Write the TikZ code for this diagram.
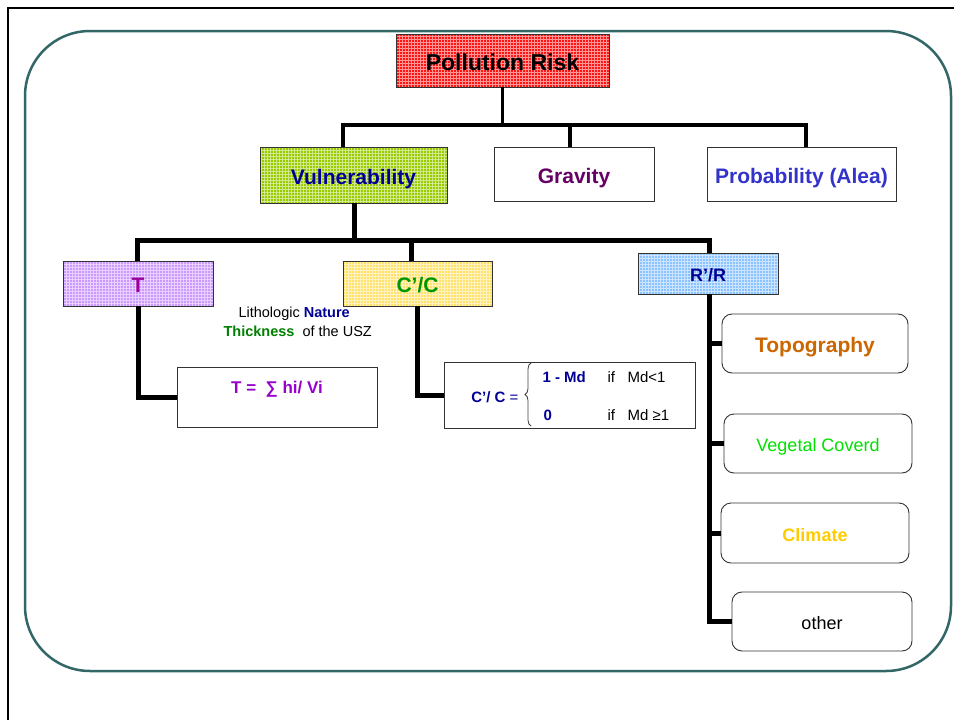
\documentclass[tikz,border=0pt]{standalone}
\usepackage{fontspec}
\setmainfont{Liberation Sans}
\usetikzlibrary{patterns,decorations.pathreplacing}

\definecolor{frameteal}{RGB}{51,102,102}
\definecolor{riskred}{RGB}{255,20,20}
\definecolor{vulgreen}{RGB}{153,204,0}
\definecolor{tlav}{RGB}{204,153,255}
\definecolor{ccyellow}{RGB}{255,226,110}
\definecolor{rrblue}{RGB}{140,195,255}
\definecolor{navy}{RGB}{0,0,150}
\definecolor{plum}{RGB}{102,0,102}
\definecolor{probblue}{RGB}{51,51,204}
\definecolor{tpurple}{RGB}{153,0,153}
\definecolor{fpurple}{RGB}{153,0,204}
\definecolor{ccgreen}{RGB}{0,150,0}
\definecolor{thickgreen}{RGB}{0,128,0}
\definecolor{topoorange}{RGB}{204,102,0}
\definecolor{veggreen}{RGB}{0,225,0}
\definecolor{climgold}{RGB}{255,204,0}

\tikzset{
  sq/.style={draw=black!80, line width=0.9pt, inner sep=0pt},
  rnd/.style={draw=black!80, line width=0.9pt, inner sep=0pt, rounded corners=10pt},
  hatched/.style={preaction={fill=#1}, pattern=grid, pattern color=#1!45!white},
  big/.style={font=\fontsize{23}{27}\selectfont\bfseries, text height=21pt, text depth=1.5pt},
  mid/.style={font=\fontsize{21}{25}\selectfont\bfseries, text height=20pt, text depth=2pt},
  midr/.style={font=\fontsize{18}{22}\selectfont, text height=17pt, text depth=1pt},
  midb/.style={font=\fontsize{18}{22}\selectfont\bfseries, text height=17pt, text depth=1pt},
  small/.style={font=\fontsize{14.5}{17}\selectfont},
  form/.style={font=\fontsize{15}{18}\selectfont},
  lone/.style={line width=3.5pt},
  ltwo/.style={line width=5pt},
}

\begin{document}
\begin{tikzpicture}[x=1pt, y=-1pt]
  % page and frames
  \fill[white] (0,0) rectangle (954,720);
  \useasboundingbox (0,0) rectangle (954,720);
  \draw[line width=2pt] (954,8) -- (8,8) -- (8,720);
  \draw[frameteal, line width=2.5pt, rounded corners=65pt] (25,31) rectangle (951,671);

  % top level
  \node[sq, hatched=riskred, minimum width=213pt, minimum height=53pt, big] (risk) at (502.5,60.5) {Pollution Risk};

  % second level
  \node[sq, hatched=vulgreen, minimum width=187pt, minimum height=56pt, mid, text=navy] (vul) at (353.5,175) {Vulnerability};
  \node[sq, fill=white, minimum width=160pt, minimum height=54pt, mid, text=plum] (grav) at (574,174) {Gravity};
  \node[sq, fill=white, minimum width=189pt, minimum height=54pt, mid, text=probblue] (prob) at (801.5,174) {Probability (Alea)};

  % third level
  \node[sq, hatched=tlav, minimum width=150pt, minimum height=45pt, mid, text=tpurple] (tbox) at (138,283.5) {T};
  \node[sq, hatched=ccyellow, minimum width=149pt, minimum height=45pt, mid, text=ccgreen] (cc) at (417.5,283.5) {C’/C};
  \node[sq, hatched=rrblue, minimum width=140pt, minimum height=41pt, midb, text=navy] (rr) at (708,273.5) {R’/R};

  % note under T and C'/C
  \node[small, anchor=west] (lith) at (235,314) {Lithologic \textcolor{navy}{\bfseries Nature}};
  \node[small, anchor=west] (thick) at (220,331) {\textcolor{thickgreen}{\bfseries Thickness}\ \ of the USZ};

  % formula boxes
  \node[sq, fill=white, minimum width=200pt, minimum height=60pt] (tf) at (277,397) {};
  \node[font=\fontsize{17}{20}\selectfont\bfseries, text=fpurple] (tftext) at (277,389) {T =\ \ ∑ hi/ Vi};

  \node[sq, fill=white, minimum width=251pt, minimum height=66pt] (cf) at (569.5,395) {};
  \node[form, anchor=east, text=navy] (cflhs) at (522,397) {\bfseries C’/ C \mdseries =};
  \coordinate (brtop) at (531,363);
  \coordinate (brbot) at (531,426);
  \draw[black!75, line width=0.8pt, decorate, decoration={brace, amplitude=6pt}] (brbot) -- (brtop);
  \node[form, anchor=west, text=navy] (caseone) at (539,377) {\bfseries 1 - Md};
  \node[form, anchor=west] (condone) at (604,377) {if\ \ \ Md<1};
  \node[form, anchor=west, text=navy] (casetwo) at (540,415) {\bfseries 0};
  \node[form, anchor=west] (condtwo) at (604,415) {if\ \ \ Md ≥1};

  % R'/R factors
  \node[rnd, fill=white, minimum width=186pt, minimum height=59pt, mid, text=topoorange] (topo) at (815,343.5) {Topography};
  \node[rnd, fill=white, minimum width=188pt, minimum height=59pt, midr, text=veggreen] (veg) at (818,443.5) {Vegetal Coverd};
  \node[rnd, fill=white, minimum width=188pt, minimum height=60pt, midb, text=climgold] (clim) at (815,533) {Climate};
  \node[rnd, fill=white, minimum width=180pt, minimum height=59pt, midr] (oth) at (822,621.5) {other};

  % connectors, first level
  \coordinate (busa) at (502.5,125);
  \coordinate (busaw) at (343,125);
  \coordinate (busag) at (570,125);
  \coordinate (busae) at (806,125);
  \draw[lone] (risk.south) -- (busa);
  \draw[lone, line cap=rect] (busaw) -- (busae);
  \draw[lone] (busaw) -- (busaw |- vul.north);
  \draw[lone] (busag) -- (busag |- grav.north);
  \draw[lone] (busae) -- (busae |- prob.north);

  % connectors, second level
  \coordinate (busb) at (354,240);
  \coordinate (busbw) at (137,240);
  \coordinate (busbc) at (411,240);
  \coordinate (busbe) at (709,240);
  \draw[ltwo] (busb |- vul.south) -- (busb);
  \draw[ltwo, line cap=rect] (busbw) -- (busbe);
  \draw[ltwo] (busbw) -- (busbw |- tbox.north);
  \draw[ltwo] (busbc) -- (busbc |- cc.north);
  \draw[ltwo] (busbe) -- (busbe |- rr.north);

  % T and C'/C to their formulas
  \draw[ltwo] (tbox.south) |- (tf.west);
  \draw[ltwo] (cc.south) |- (cf.west);

  % R'/R spine and branches
  \coordinate (spine) at (709,294);
  \draw[ltwo] (spine |- rr.south) -- (spine |- oth.west) -- (oth.west);
  \draw[ltwo] (spine |- topo.west) -- (topo.west);
  \draw[ltwo] (spine |- veg.west) -- (veg.west);
  \draw[ltwo] (spine |- clim.west) -- (clim.west);
\end{tikzpicture}
\end{document}
